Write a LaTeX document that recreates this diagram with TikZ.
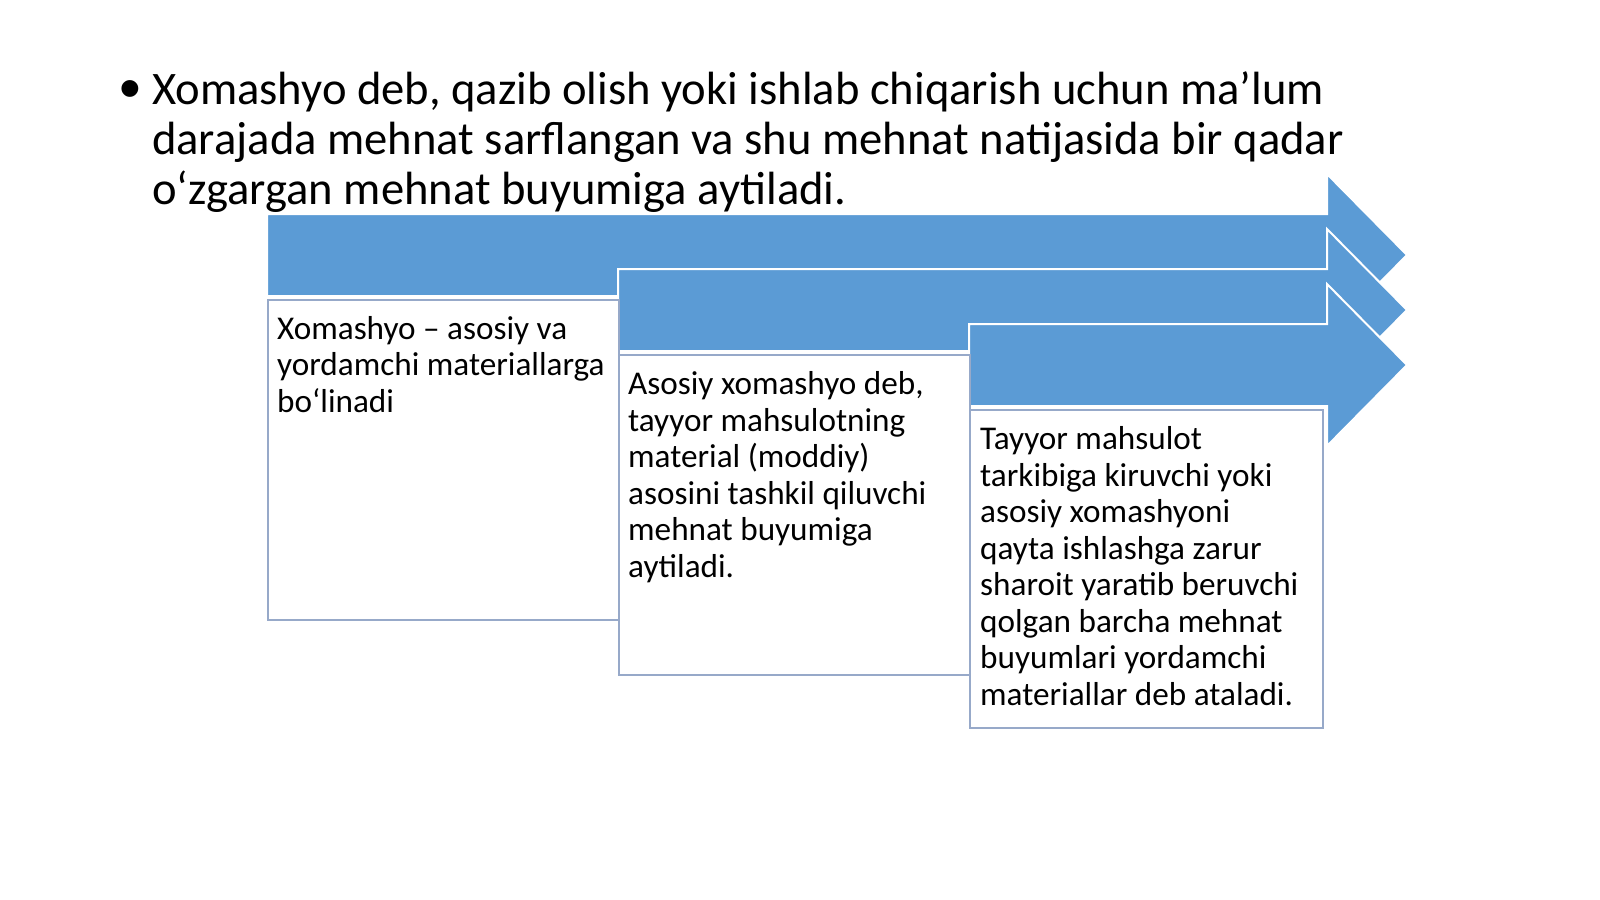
\documentclass[tikz,border=0pt]{standalone}
\usepackage{fontspec}
\setmainfont{Carlito}
\newfontfamily\bulletfont{Liberation Sans}
\definecolor{arrowblue}{HTML}{5B9BD5}
\definecolor{boxline}{HTML}{97A9C9}
\begin{document}
\begin{tikzpicture}[x=1pt,y=-1pt,
  arrowshape/.style={fill=arrowblue, draw=white, line width=2pt, line join=miter},
  textbox/.style={draw=boxline, fill=white, line width=1.5pt, inner sep=0pt, anchor=north west},
  boxtext/.style={anchor=base west, align=left, inner sep=0pt, font=\fontsize{33.2}{36.5}\selectfont},
  titletext/.style={anchor=base west, align=left, inner sep=0pt, font=\fontsize{46.6}{50}\selectfont}]
\useasboundingbox[fill=white] (0,0) rectangle (1600,899);
% title
\node[inner sep=0pt, font=\bulletfont\fontsize{62}{62}\selectfont] (bullet) at (130.4,95.4) {•};
\node[titletext] (title) at (152,204) {Xomashyo deb, qazib olish yoki ishlab chiqarish uchun ma’lum\\darajada mehnat sarflangan va shu mehnat natijasida bir qadar\\o‘zgargan mehnat buyumiga aytiladi.};
% arrows
\path[arrowshape] (267,214) -- (1327,214) -- (1327,174) -- (1407,255) -- (1327,336) -- (1327,296) -- (267,296) -- cycle;
\path[arrowshape] (618,269) -- (1327,269) -- (1327,229) -- (1407,310) -- (1327,391) -- (1327,351) -- (618,351) -- cycle;
\path[arrowshape] (969,324) -- (1327,324) -- (1327,284) -- (1407,365) -- (1327,446) -- (1327,406) -- (969,406) -- cycle;
% boxes
\node[textbox, minimum width=351pt, minimum height=320pt] (box1) at (267,299) {};
\node[textbox, minimum width=351pt, minimum height=320pt] (box2) at (618,354) {};
\node[textbox, minimum width=353pt, minimum height=318pt] (box3) at (969,409) {};
\node[boxtext] (txt1) at (277,412) {Xomashyo – asosiy va\\yordamchi materiallarga\\bo‘linadi};
\node[boxtext] (txt2) at (628,577) {Asosiy xomashyo deb,\\tayyor mahsulotning\\material (moddiy)\\asosini tashkil qiluvchi\\mehnat buyumiga\\aytiladi.};
\node[boxtext] (txt3) at (980,705) {Tayyor mahsulot\\tarkibiga kiruvchi yoki\\asosiy xomashyoni\\qayta ishlashga zarur\\sharoit yaratib beruvchi\\qolgan barcha mehnat\\buyumlari yordamchi\\materiallar deb ataladi.};
\end{tikzpicture}
\end{document}
